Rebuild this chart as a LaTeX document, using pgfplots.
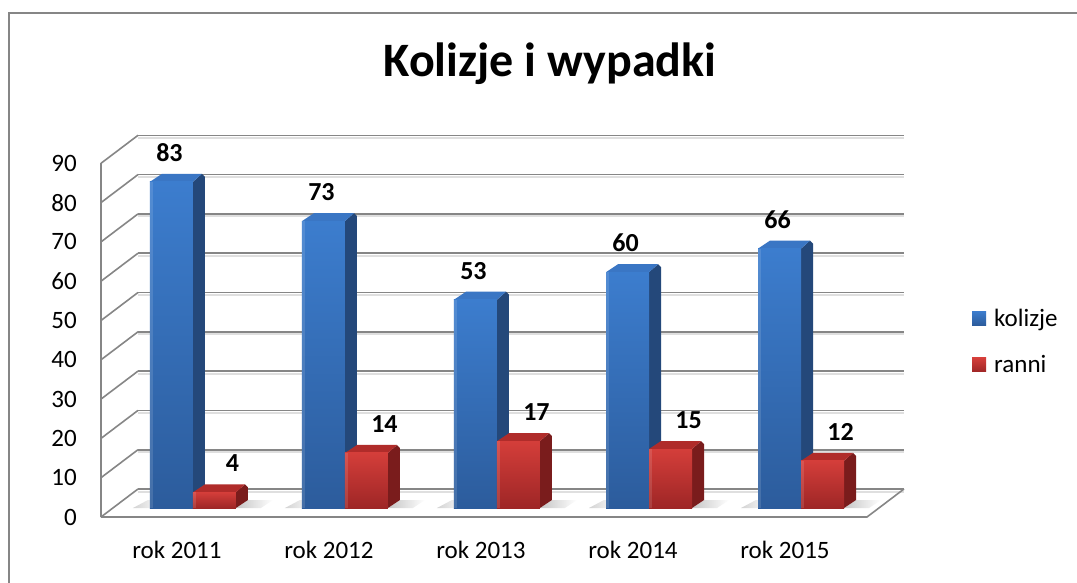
\documentclass[border=0pt]{standalone}
\usepackage{fontspec}
\setmainfont{Carlito}
\usepackage{pgfplots}
\usepackage{pgfplotstable}
\pgfplotsset{compat=1.18}
\definecolor{gridc}{RGB}{134,134,134}
\definecolor{blueT}{RGB}{60,125,206}
\definecolor{blueB}{RGB}{44,92,156}
\definecolor{blueS}{RGB}{36,72,122}
\definecolor{blueTop}{RGB}{58,118,196}
\definecolor{redT}{RGB}{212,62,58}
\definecolor{redB}{RGB}{158,38,38}
\definecolor{redS}{RGB}{122,28,28}
\definecolor{redTop}{RGB}{176,44,42}

% 3D bar marks: origin at (group centre, value); height from \yval (3.93pt per unit)
\pgfdeclareplotmark{barblue}{%
  \pgfmathsetmacro\h{\yval*3.93}%
  \shade[draw=none, left color=gray!35, right color=white] (-60pt,{-\h pt}) -- (-43pt,{-\h pt}) -- (-31pt,{8pt-\h pt}) -- (-45pt,{8pt-\h pt}) -- cycle;
  \fill[draw=none, blueS] (0pt,-\h pt) -- (12pt,{8pt-\h pt}) -- (12pt,5pt) -- (9pt,8pt) -- (0pt,0pt) -- cycle;
  \fill[draw=none, blueTop] (-43pt,0pt) -- (0pt,0pt) -- (9pt,8pt) -- (-31pt,8pt) -- cycle;
  \shade[draw=none, top color=blueT, bottom color=blueB] (-43pt,-\h pt) rectangle (0pt,0pt);
  \fill[draw=none, white, opacity=0.12] (-43pt,-\h pt) rectangle (-40pt,0pt);
}
\pgfdeclareplotmark{barred}{%
  \pgfmathsetmacro\h{\yval*3.93}%
  \shade[draw=none, left color=gray!45, right color=white] (43pt,-\h pt) -- (55pt,{8pt-\h pt}) -- (80pt,{8pt-\h pt}) -- (68pt,-\h pt) -- cycle;
  \fill[draw=none, redS] (43pt,-\h pt) -- (55pt,{8pt-\h pt}) -- (55pt,5pt) -- (52pt,8pt) -- (43pt,0pt) -- cycle;
  \fill[draw=none, redTop] (0pt,0pt) -- (43pt,0pt) -- (52pt,8pt) -- (12pt,8pt) -- cycle;
  \shade[draw=none, top color=redT, bottom color=redB] (0pt,-\h pt) rectangle (43pt,0pt);
  \fill[draw=none, white, opacity=0.12] (0pt,-\h pt) rectangle (3pt,0pt);
}
\pgfplotsset{
  bluelegend/.style={legend image code/.code={\shade[draw=none, top color=blueT, bottom color=blueB] (0pt,-7pt) rectangle (14pt,7pt);}},
  redlegend/.style={legend image code/.code={\shade[draw=none, top color=redT, bottom color=redB] (0pt,-7pt) rectangle (14pt,7pt);}},
}

\pgfplotstableread{
x kol ran
0 83 4
1 73 14
2 53 17
3 60 15
4 66 12
}\data

\begin{document}
\begin{tikzpicture}
\useasboundingbox (-113pt,-74pt) rectangle (964pt,508pt);
\fill[white] (-113pt,-74pt) rectangle (964pt,508pt);
\draw[gridc, line width=2pt] (-104pt,-80pt) -- (-104pt,495pt) -- (970pt,495pt);
\begin{axis}[
  at={(0pt,0pt)}, anchor=south west,
  scale only axis, width=766pt, height=353.7pt,
  xmin=-0.526, xmax=4.513, ymin=0, ymax=90,
  clip=false,
  axis line style={draw=none},
  major tick length=0pt, tick style={draw=none},
  ytick={0,10,...,90},
  xtick={0,...,4},
  xticklabels={rok 2011,rok 2012,rok 2013,rok 2014,rok 2015},
  ticklabel style={font=\fontsize{25}{30}\selectfont},
  yticklabel style={anchor=east, inner sep=0pt, xshift=-36pt, yshift=-9pt},
  xticklabel style={anchor=base, inner sep=0pt, yshift=-50pt, xshift=-16pt},
  /pgf/number format/assume math mode=true,
  title={Kolizje i wypadki},
  title style={at={(0.5705,1.2044)}, anchor=base, font=\bfseries\fontsize{48}{56}\selectfont, inner sep=0pt},
  legend style={at={(1.1214,0.4707)}, anchor=west, draw=none, fill=none, inner sep=0pt,
    font=\fontsize{25}{30}\selectfont, row sep=26pt, column sep=7pt, nodes={inner sep=1pt}},
  legend cell align=left,
]
\pgfplotsinvokeforeach{0,10,...,90}{
  \draw[gray!25, line width=2pt] ([shift={(25pt,16.5pt)}]axis cs:-0.526,#1) -- ([shift={(25pt,16.5pt)}]axis cs:4.513,#1);
  \draw[gridc, line width=1.6pt] ([shift={(25pt,19pt)}]axis cs:-0.526,#1) -- ([shift={(25pt,19pt)}]axis cs:4.513,#1);
  \draw[gridc, line width=1.6pt] ([shift={(-12pt,-9pt)}]axis cs:-0.526,#1) -- ([shift={(25pt,19pt)}]axis cs:-0.526,#1);
}
\draw[gridc, line width=1.6pt] ([shift={(-12pt,-9pt)}]axis cs:-0.526,0) -- ([shift={(-12pt,-9pt)}]axis cs:-0.526,90);
\draw[gridc, line width=1.6pt] ([shift={(-12pt,-9pt)}]axis cs:-0.526,0) -- ([shift={(-12pt,-9pt)}]axis cs:4.513,0) -- ([shift={(25pt,19pt)}]axis cs:4.513,0);

\addplot[only marks, mark=barblue, draw=none, fill=none, mark options={draw=none, fill=none}, bluelegend, visualization depends on={rawy \as \yval},
  nodes near coords, nodes near coords style={font=\bfseries\fontsize{26}{30}\selectfont, text=black, anchor=center, yshift=29pt, xshift=-23.5pt}]
  table[x=x,y=kol]{\data};
\addlegendentry{kolizje}
\addplot[only marks, mark=barred, draw=none, fill=none, mark options={draw=none, fill=none}, redlegend, visualization depends on={rawy \as \yval},
  nodes near coords, nodes near coords style={font=\bfseries\fontsize{26}{30}\selectfont, text=black, anchor=center, yshift=29pt, xshift=39.5pt}]
  table[x=x,y=ran]{\data};
\addlegendentry{ranni}
\end{axis}
\end{tikzpicture}
\end{document}
